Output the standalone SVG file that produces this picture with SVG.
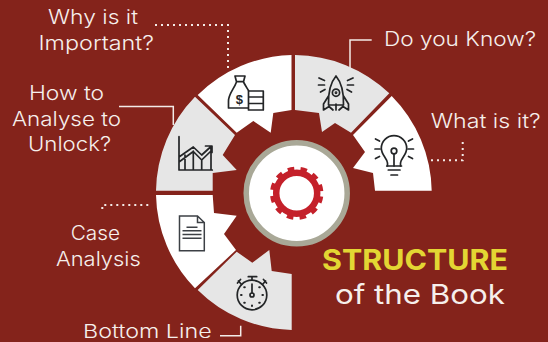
<svg xmlns="http://www.w3.org/2000/svg" width="548" height="342" viewBox="0 0 548 342">
<style>
.l{font-family:Inter,"Liberation Sans",sans-serif;font-weight:300;font-size:19.5px;fill:#f6efec}
.i{fill:none;stroke:#232527;stroke-width:1.7;stroke-linejoin:round;stroke-linecap:round}
.w{fill:#fff}.g{fill:#e6e6e6}
.c{fill:none;stroke:#f3ebe8;stroke-width:1.5}
.d{fill:none;stroke:#f3ebe8;stroke-width:2;stroke-dasharray:2 4}
</style>
<rect width="548" height="342" fill="#84231b"/>
<g id="connectors">
<path class="c" d="M119 106.500H173.300V125"/>
<path class="c" d="M371.700 40H350V68"/>
<path class="c" d="M220 335.700H240.700V325.700"/>
<path class="d" d="M155 25H228V71"/>
<path class="d" d="M431 160.300H462.700V139"/>
<path class="d" d="M148.300 205H102.300V213"/>
</g>
<g id="why-important">
<path class="w" d="M197.700 95A138 138 0 0 1 291.500 55V110L273.300 113L270.700 132.700L253.300 121L236.700 132.700Z"/>
<g class="i"><path d="M235 76H245L243.500 81.700H236.500ZM236.500 82C234 89 228.500 94 228.500 101V108H248M243.500 82C245 85 247 88 248.500 90.500"/><path d="M248.500 91H263.300V110H248.500ZM248.500 97H263.300M248.500 103.500H263.300"/></g>
<text x="239.300" y="104" text-anchor="middle" style="font-family:'Liberation Sans',sans-serif;font-weight:700;font-size:13px;fill:#232527">$</text>
<text class="l" x="48" y="23.500" textLength="90" lengthAdjust="spacingAndGlyphs">Why is it</text>
<text class="l" x="38.500" y="49.500" textLength="115.500" lengthAdjust="spacingAndGlyphs">Important?</text>
</g>
<g id="do-you-know">
<path class="g" d="M295 55A138 138 0 0 1 389.300 93.300L351 132.700L335 123L322 132L319 113L295 110Z"/>
<g class="i"><path d="M336 76C331 82 328 90 328.500 105H343.500C344 90 341 82 336 76ZM328.500 96L323.500 104V110L329 106.500L333 110M343.500 96L348.500 104V110L343 106.500L339 110M336 104V110"/><circle cx="336" cy="92.700" r="3.600"/><circle cx="336" cy="92.700" r=".6"/><path d="M319 78L324.500 80.500M318.500 85H324.500M320.500 92L325 89.500M353 78L347.500 80.500M353.500 85H347.500M351.500 92L347 89.500"/></g>
<text class="l" x="384" y="45.700" textLength="152" lengthAdjust="spacingAndGlyphs">Do you Know?</text>
</g>
<g id="what-is-it">
<path class="w" d="M391.700 96A138 138 0 0 1 431.700 190.700H375L373 173L353 168L365 152L353 135Z"/>
<g class="i"><path d="M387.500 166V163C387 158 381.300 155 381.300 148.300A12.700 12.700 0 0 1 406.700 148.300C406.700 155 401 158 400.500 163V166M394 153.800V166"/><circle cx="394" cy="151" r="2.800"/><path d="M386.700 166H401.500M388.300 170H400M391 175H397.500M375 149H380M408 149H413.500M375.500 139L379.500 141M412.500 139L408.500 141M375.500 158.500L379.500 156.500M412.500 158.500L408.500 156.500"/></g>
<text class="l" x="430.700" y="128" textLength="110" lengthAdjust="spacingAndGlyphs">What is it?</text>
</g>
<g id="how-to-analyse">
<path class="g" d="M195 96.700L235 135L222.700 155L236.700 170L212.700 173V190.700H156A138 138 0 0 1 195 96.700Z"/>
<g class="i"><path d="M179 136.700V170H212.300M179 157L193.300 147L201.700 155L211 146.500M179 162L193.300 151.500L201.700 160L211 151M185 170V155M193.300 170V151M201.700 170V160M211 170V146M205.500 146H212V152.500"/></g>
<text class="l" x="29" y="100" textLength="75" lengthAdjust="spacingAndGlyphs">How to</text>
<text class="l" x="12" y="126" textLength="109" lengthAdjust="spacingAndGlyphs">Analyse to</text>
<text class="l" x="28" y="150.700" textLength="83" lengthAdjust="spacingAndGlyphs">Unlock?</text>
</g>
<g id="case-analysis">
<path class="w" d="M156 195H212.700L214 213L236.700 215.700L224 234L236 250L195 288.300A138 138 0 0 1 156 195Z"/>
<g style="fill:none;stroke:#3c4045;stroke-width:1.500"><path d="M179.500 216H197.500L204.300 222.500V250.700H179.500ZM197.500 216V222.500H204.300"/><path d="M186.500 227.300H197.500M182.500 230.800H201.500M182.500 234.500H201.500M182.500 238.300H201.500"/></g>
<text class="l" x="70.700" y="240" textLength="49.300" lengthAdjust="spacingAndGlyphs">Case</text>
<text class="l" x="56" y="266" textLength="84.700" lengthAdjust="spacingAndGlyphs">Analysis</text>
</g>
<g id="bottom-line">
<path class="g" d="M197.700 290L236.700 251.700L252.300 262.700L269.300 250L271.700 271L291.700 274V330A138 138 0 0 1 197.700 290Z"/>
<g class="i"><circle cx="252" cy="295" r="14.800"/><circle cx="252" cy="295" r="2"/><path d="M252 293V284M248.300 276.700H256.700M252 276.700V280M238.500 281L241.500 284.500M237.500 283L240.500 279.500M265.500 281L262.500 284.500M266.500 283L263.500 279.500"/><path d="M241 295H241.600M263 295H262.400M252 306V305.400M244.200 287.200H244.800M259.800 287.200H259.200M244.200 302.800H244.800M259.800 302.800H259.200" stroke-width="2"/></g>
<text class="l" x="83" y="337.500" textLength="128.700" lengthAdjust="spacingAndGlyphs" style="font-size:18.500px">Bottom Line</text>
</g>
<g id="center-gear">
<circle cx="296.700" cy="193.300" r="50.500" fill="#fff" stroke="#a9a897" stroke-width="5.500"/>
<circle cx="296.700" cy="193.300" r="20.500" fill="none" stroke="#c4202a" stroke-width="6.500"/>
<circle cx="296.700" cy="193.300" r="24.800" fill="none" stroke="#c4202a" stroke-width="3.800" stroke-dasharray="6.490 6.490" stroke-dashoffset="-3.250"/>
</g>
<g id="title">
<text x="322" y="270" textLength="186" lengthAdjust="spacingAndGlyphs" style="font-family:Inter,'Liberation Sans',sans-serif;font-weight:700;font-size:28px;fill:#e3d633">STRUCTURE</text>
<text x="335" y="304" textLength="170" lengthAdjust="spacingAndGlyphs" style="font-family:Inter,'Liberation Sans',sans-serif;font-weight:400;font-size:27px;fill:#f6efec">of the Book</text>
</g>
</svg>
